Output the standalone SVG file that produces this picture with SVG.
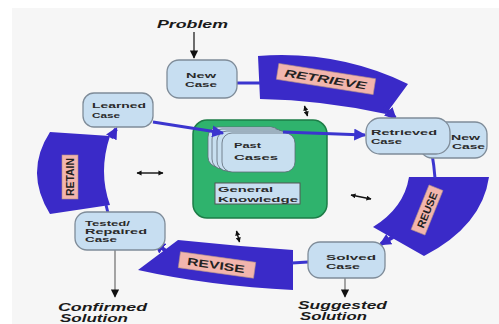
<svg xmlns="http://www.w3.org/2000/svg" width="499" height="324" viewBox="0 0 499 324">
<style>
.node{fill:#c7def1;stroke:#7f8c99;stroke-width:1.3}
.card{fill:#c8dff0;stroke:#5e6a76;stroke-width:0.8}
.t{font-family:"Liberation Sans",Arial,sans-serif;font-weight:bold;font-size:7.8px;fill:#2a2a2a}
.lab{font-family:"Liberation Sans",Arial,sans-serif;font-weight:bold;font-style:italic;font-size:11px;fill:#1a1a1a}
.band{fill:#3a2ac8}
.pink{fill:#f2b5ad;stroke:#b09088;stroke-width:0.6}
.bt{font-family:"Liberation Sans",Arial,sans-serif;font-weight:bold;font-size:10.5px;fill:#222}
.blue{stroke:#3b35cf;stroke-width:3;fill:none}
.bandarr{stroke:#3a2ac8;stroke-width:4;fill:none}
.blk{stroke:#222;stroke-width:1.3;fill:none}
.gray{stroke:#777;stroke-width:1.3;fill:none}
.dbl{stroke:#111;stroke-width:1.4;fill:none}
</style>
<defs>
<marker id="ab" viewBox="0 0 10 10" refX="9" refY="5" markerWidth="4" markerHeight="4" orient="auto" markerUnits="strokeWidth"><path d="M0,0 L10,5 L0,10 z" fill="#3b35cf"/></marker>
<marker id="ad" viewBox="0 0 10 10" refX="8" refY="5" markerWidth="3" markerHeight="3.2" orient="auto" markerUnits="strokeWidth"><path d="M0,0 L10,5 L0,10 z" fill="#3a2ac8"/></marker>
<marker id="ak" viewBox="0 0 10 10" refX="9" refY="5" markerWidth="6.5" markerHeight="6.5" orient="auto" markerUnits="strokeWidth"><path d="M0,0 L10,5 L0,10 z" fill="#111"/></marker>
<marker id="ad2" viewBox="0 0 10 10" refX="9" refY="5" markerWidth="3.6" markerHeight="3.6" orient="auto-start-reverse" markerUnits="strokeWidth"><path d="M0,0 L10,5 L0,10 z" fill="#111"/></marker>
</defs>
<rect x="0" y="0" width="499" height="324" fill="#ffffff"/>
<rect x="12" y="8" width="487" height="316" fill="#f6f6f6"/>

<g id="bands">
<g id="retrieve">
<path class="band" d="M258,56 Q338,50 408,84 L386,114 Q322,100 260,99 Z"/>
<line class="bandarr" x1="384" y1="107" x2="395" y2="118" marker-end="url(#ad)"/>
<g transform="translate(326,79) rotate(9)"><rect class="pink" x="-49" y="-8" width="98" height="16"/><text class="bt" font-style="italic" x="-42" y="4" textLength="83" lengthAdjust="spacingAndGlyphs">RETRIEVE</text></g>
</g>
<g id="reuse">
<path class="band" d="M409,177 L489,177 Q482,226 424,256 L373,227 Q404,208 409,177 Z"/>
<line class="bandarr" x1="393" y1="237" x2="381" y2="244" marker-end="url(#ad)"/>
<g transform="translate(427,210) rotate(-68)"><rect class="pink" x="-24" y="-7.5" width="48" height="15"/><text class="bt" x="-19" y="3.8" textLength="38" lengthAdjust="spacingAndGlyphs">REUSE</text></g>
</g>
<g id="revise">
<path class="band" d="M178,240 Q235,246 293,250 L293,290 Q210,286 138,270 Z"/>
<line class="bandarr" x1="166" y1="251" x2="155" y2="243" marker-end="url(#ad)"/>
<g transform="translate(217,265) rotate(8)"><rect class="pink" x="-38" y="-8" width="76" height="16"/><text class="bt" x="-30" y="4" textLength="58" lengthAdjust="spacingAndGlyphs">REVISE</text></g>
</g>
<g id="retain">
<path class="band" d="M50,132 L110,136 Q98,172 110,205 L50,214 Q24,172 50,132 Z"/>
<line class="bandarr" x1="111" y1="138" x2="116" y2="129" marker-end="url(#ad)"/>
<g transform="translate(70,177) rotate(-90)"><rect class="pink" x="-22" y="-8" width="44" height="16"/><text class="bt" x="-19" y="4" textLength="38" lengthAdjust="spacingAndGlyphs">RETAIN</text></g>
</g>
</g>

<g id="kb">
<rect x="193" y="120" width="134" height="98" rx="14" fill="#2fb36d" stroke="#1d7d47" stroke-width="1.5"/>
<g id="past-cases">
<rect class="card" x="208" y="127" width="73" height="40" rx="10"/>
<rect class="card" x="212" y="129" width="73" height="40" rx="10"/>
<rect class="card" x="217" y="131" width="74" height="40" rx="10"/>
<rect class="card" x="222" y="133" width="73" height="39" rx="10"/>
<text class="t" font-size="9.5" x="234" y="148" textLength="27" lengthAdjust="spacingAndGlyphs">Past</text>
<text class="t" font-size="9.5" x="234" y="160" textLength="44" lengthAdjust="spacingAndGlyphs">Cases</text>
</g>
<g id="general-knowledge">
<rect x="215" y="183" width="85" height="21" fill="#c7def1" stroke="#555" stroke-width="1"/>
<text class="t" font-size="9" x="218" y="192" textLength="55" lengthAdjust="spacingAndGlyphs">General</text>
<text class="t" font-size="9" x="218" y="202" textLength="80" lengthAdjust="spacingAndGlyphs">Knowledge</text>
</g>
</g>

<g id="connectors">
<line class="blk" x1="194" y1="32" x2="194" y2="58" marker-end="url(#ak)"/>
<line class="gray" x1="115" y1="250" x2="115" y2="297" marker-end="url(#ak)"/>
<line class="gray" x1="345" y1="278" x2="345" y2="297" marker-end="url(#ak)"/>
<line class="blue" stroke-width="2" x1="237" y1="83" x2="260" y2="83"/>
<line class="blue" x1="153" y1="122" x2="223" y2="133" marker-end="url(#ab)"/>
<line class="blue" x1="283" y1="132" x2="365" y2="135" marker-end="url(#ab)"/>
<path class="blue" d="M432,154 Q434,165 435,178"/>
<line class="blue" stroke-width="2.5" x1="292" y1="263" x2="308" y2="262"/>
<line class="blue" stroke-width="2" x1="106" y1="205" x2="108" y2="213"/>
<line class="dbl" x1="304.5" y1="106" x2="307.5" y2="116" marker-start="url(#ad2)" marker-end="url(#ad2)"/>
<line class="dbl" x1="137" y1="173" x2="163" y2="173" marker-start="url(#ad2)" marker-end="url(#ad2)"/>
<line class="dbl" x1="236.5" y1="231" x2="239.5" y2="242" marker-start="url(#ad2)" marker-end="url(#ad2)"/>
<line class="dbl" x1="351" y1="195" x2="371" y2="199" marker-start="url(#ad2)" marker-end="url(#ad2)"/>
</g>

<g id="problem"><text class="lab" x="157" y="28" textLength="71" lengthAdjust="spacingAndGlyphs">Problem</text></g>

<g id="new-case">
<rect class="node" x="167" y="60" width="70" height="38" rx="12"/>
<text class="t" x="186" y="77.5" textLength="30" lengthAdjust="spacingAndGlyphs">New</text>
<text class="t" x="185" y="86.5" textLength="32" lengthAdjust="spacingAndGlyphs">Case</text>
</g>
<g id="learned-case">
<rect class="node" x="83" y="93" width="70" height="34" rx="11"/>
<text class="t" x="92" y="108" textLength="54" lengthAdjust="spacingAndGlyphs">Learned</text>
<text class="t" x="92" y="117.5" textLength="28" lengthAdjust="spacingAndGlyphs">Case</text>
</g>
<g id="new-case-2">
<rect class="node" x="420" y="122" width="67" height="36" rx="12"/>
<text class="t" x="451" y="140" textLength="29" lengthAdjust="spacingAndGlyphs">New</text>
<text class="t" x="452" y="149" textLength="33" lengthAdjust="spacingAndGlyphs">Case</text>
</g>
<g id="retrieved-case">
<rect class="node" x="366" y="118" width="84" height="36" rx="14"/>
<text class="t" x="371" y="134.5" textLength="66" lengthAdjust="spacingAndGlyphs">Retrieved</text>
<text class="t" x="371" y="143.5" textLength="31" lengthAdjust="spacingAndGlyphs">Case</text>
</g>
<g id="tested-case">
<rect class="node" x="75" y="212" width="90" height="38" rx="12"/>
<text class="t" font-size="7.3" x="85" y="225.5" textLength="45" lengthAdjust="spacingAndGlyphs">Tested/</text>
<text class="t" font-size="7.3" x="85" y="233.5" textLength="62" lengthAdjust="spacingAndGlyphs">Repaired</text>
<text class="t" font-size="7.3" x="85" y="242" textLength="32" lengthAdjust="spacingAndGlyphs">Case</text>
</g>
<g id="solved-case">
<rect class="node" x="308" y="242" width="77" height="36" rx="12"/>
<text class="t" font-size="7.5" x="326" y="260" textLength="50" lengthAdjust="spacingAndGlyphs">Solved</text>
<text class="t" font-size="7.5" x="326" y="268.5" textLength="34" lengthAdjust="spacingAndGlyphs">Case</text>
</g>
<g id="confirmed-solution">
<text class="lab" x="58" y="311" textLength="89" lengthAdjust="spacingAndGlyphs">Confirmed</text>
<text class="lab" x="60" y="322" textLength="68" lengthAdjust="spacingAndGlyphs">Solution</text>
</g>
<g id="suggested-solution">
<text class="lab" x="298" y="309" textLength="89" lengthAdjust="spacingAndGlyphs">Suggested</text>
<text class="lab" x="300" y="320" textLength="67" lengthAdjust="spacingAndGlyphs">Solution</text>
</g>
</svg>
